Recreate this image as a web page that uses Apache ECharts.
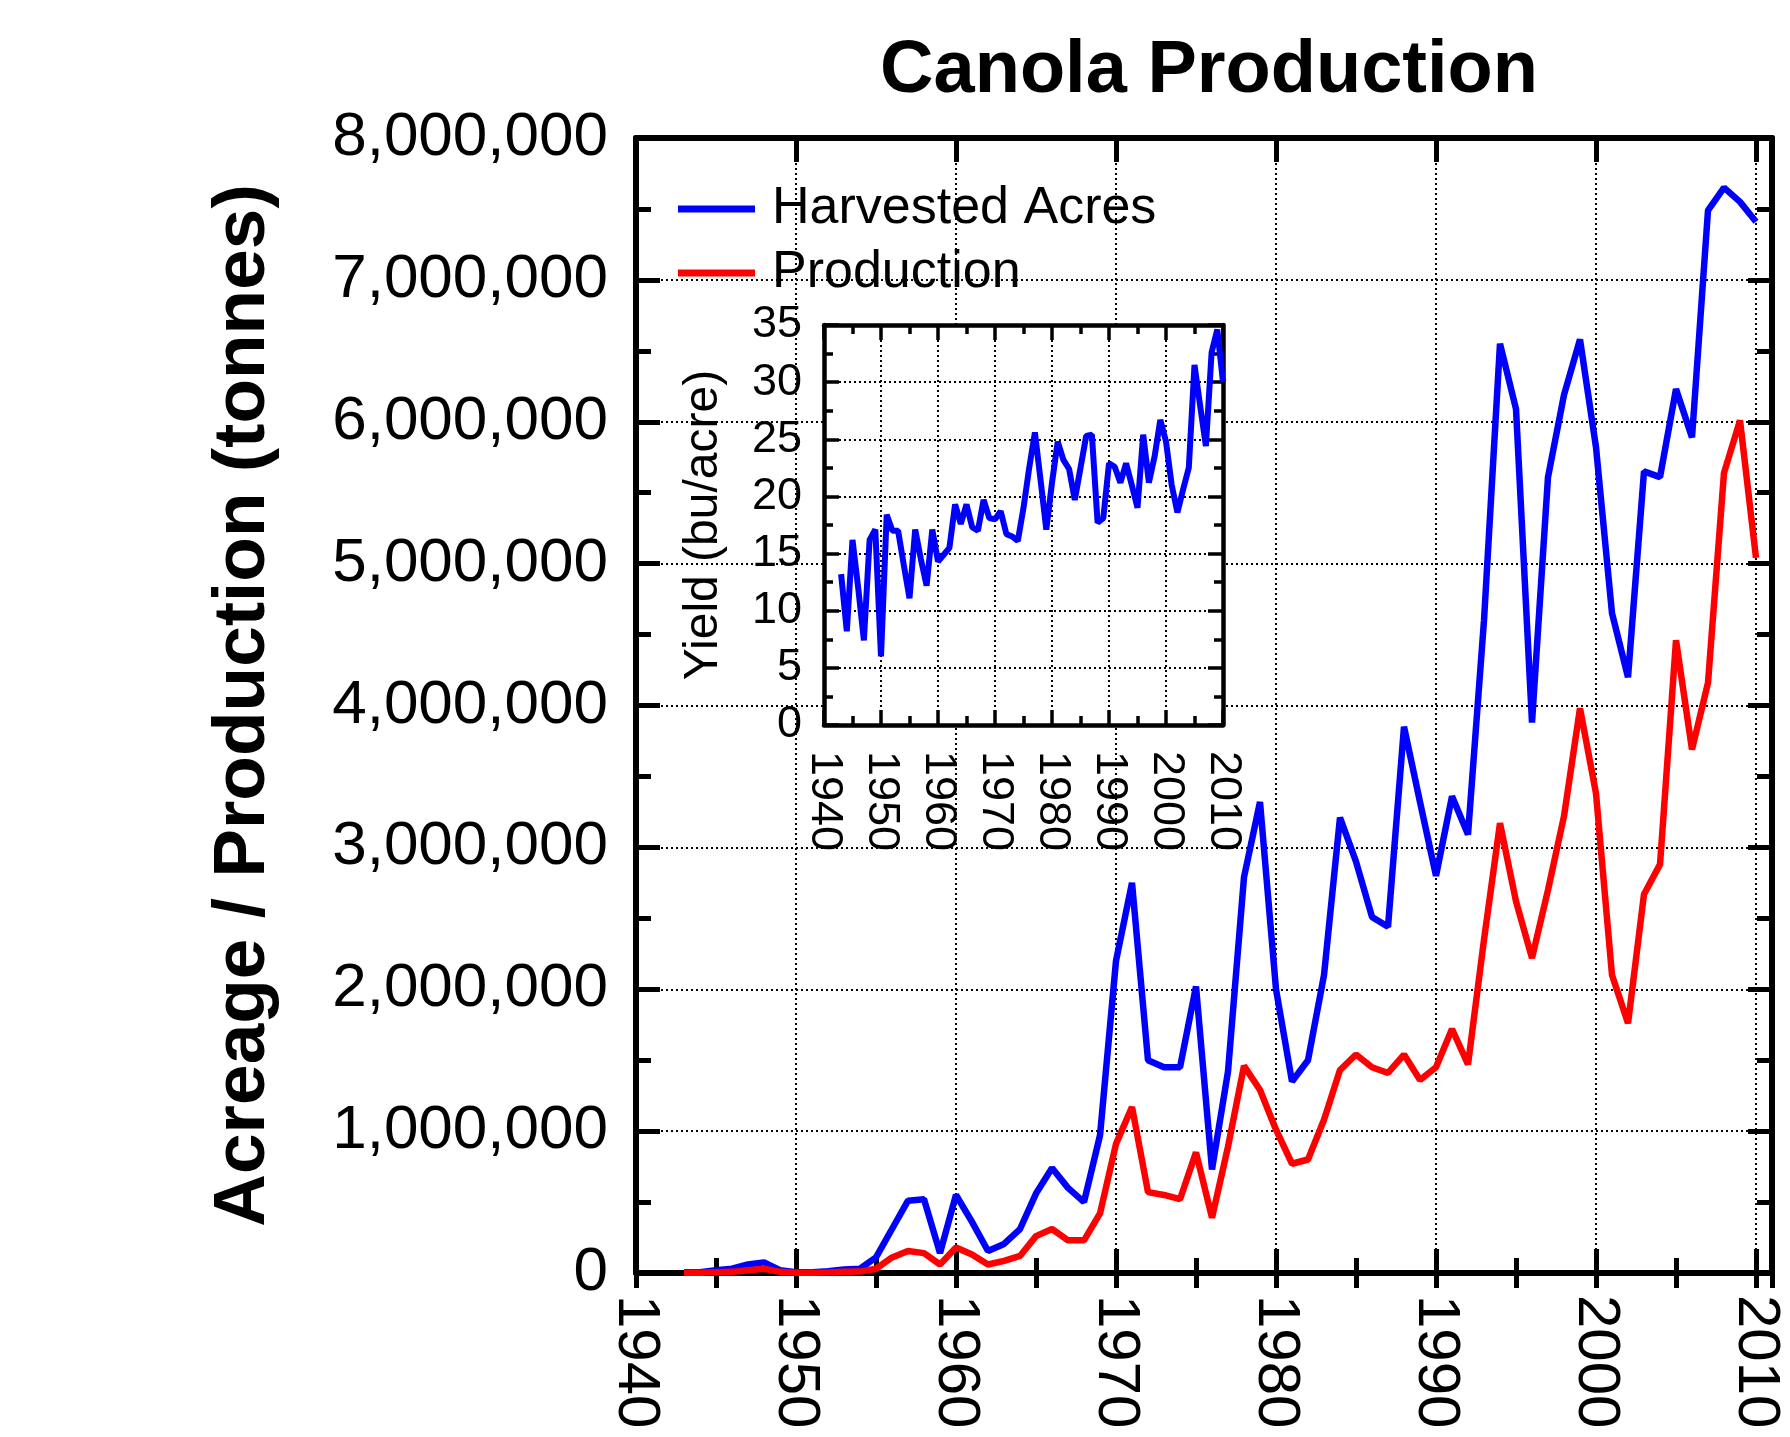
<!DOCTYPE html>
<html>
<head>
<meta charset="utf-8">
<title>Canola Production</title>
<script src="https://cdn.jsdelivr.net/npm/echarts@6/dist/echarts.min.js"></script>
<style>
    html, body { margin: 0; padding: 0; background: #fff; }
    #chart { width: 1790px; height: 1437px; }
</style>
</head>
<body>
<div id="chart"></div>
<script>
var years = [1943, 1944, 1945, 1946, 1947, 1948, 1949,
    1950, 1951, 1952, 1953, 1954, 1955, 1956, 1957, 1958, 1959,
    1960, 1961, 1962, 1963, 1964, 1965, 1966, 1967, 1968, 1969,
    1970, 1971, 1972, 1973, 1974, 1975, 1976, 1977, 1978, 1979,
    1980, 1981, 1982, 1983, 1984, 1985, 1986, 1987, 1988, 1989,
    1990, 1991, 1992, 1993, 1994, 1995, 1996, 1997, 1998, 1999,
    2000, 2001, 2002, 2003, 2004, 2005, 2006, 2007, 2008, 2009,
    2010];

var harvestedAcres = [5000, 5000, 20000, 30000, 60000, 75000, 20000,
    5000, 5000, 12000, 25000, 30000, 110000, 310000, 510000, 520000, 140000,
    550000, 360000, 155000, 205000, 310000, 560000, 740000, 600000, 500000, 970000,
    2200000, 2750000, 1500000, 1450000, 1450000, 2020000, 730000, 1420000, 2790000, 3320000,
    2000000, 1350000, 1500000, 2100000, 3210000, 2900000, 2510000, 2440000, 3850000, 3320000,
    2800000, 3360000, 3090000, 4600000, 6550000, 6090000, 3880000, 5610000, 6190000, 6580000,
    5820000, 4650000, 4200000, 5650000, 5610000, 6230000, 5890000, 7490000, 7650000, 7550000,
    7410000];

var production = [2000, 2000, 5000, 8000, 20000, 30000, 8000,
    2000, 2000, 4000, 8000, 10000, 30000, 110000, 155000, 140000, 60000,
    180000, 130000, 60000, 85000, 120000, 260000, 310000, 230000, 230000, 420000,
    910000, 1170000, 570000, 550000, 520000, 850000, 390000, 890000, 1460000, 1290000,
    1010000, 770000, 800000, 1080000, 1430000, 1540000, 1450000, 1410000, 1540000, 1360000,
    1450000, 1720000, 1470000, 2350000, 3170000, 2620000, 2220000, 2700000, 3220000, 3980000,
    3380000, 2100000, 1760000, 2670000, 2880000, 4460000, 3690000, 4160000, 5640000, 6010000,
    5040000];

// inset: yield in bu/acre
var yieldBuAcre = [13.2, 8.2, 16.2, 12.0, 7.4, 16.2, 17.1,
    6.0, 18.4, 17.0, 17.0, 14.0, 11.1, 17.1, 14.5, 12.2, 17.1,
    14.3, 14.9, 15.5, 19.3, 17.6, 19.3, 17.3, 17.0, 19.7, 18.1,
    18.0, 18.7, 16.7, 16.5, 16.1, 19.0, 22.5, 25.6, 21.4, 17.1,
    21.2, 24.8, 23.2, 22.4, 19.7, 22.5, 25.3, 25.4, 17.7, 18.1,
    22.9, 22.6, 21.2, 22.9, 21.0, 19.0, 25.4, 21.2, 23.5, 26.7,
    24.8, 21.0, 18.6, 20.6, 22.5, 31.5, 27.9, 24.4, 32.6, 34.6,
    30.0];

var FONT = '"Liberation Sans", Arial, Helvetica, sans-serif';
var dotted = { color: '#000', width: 2, type: [2, 3] };

function pairs(xs, ys) {
    var out = [];
    for (var i = 0; i < xs.length; i++) {
        out.push([xs[i], ys[i]]);
    }
    return out;
}

function withCommas(v) {
    return String(v).replace(/\B(?=(\d{3})+(?!\d))/g, ',');
}

function yearLabel(v) {
    return v % 10 === 0 ? String(v) : '';
}

// one side of a plot frame: line + inward ticks, no labels
function frameAxis(extra) {
    var a = {
        type: 'value',
        axisLine: { show: true, onZero: false, lineStyle: { color: '#000', width: 6 } },
        axisTick: { show: true, inside: true, length: 24, lineStyle: { color: '#000', width: 5 } },
        axisLabel: { show: false },
        splitLine: { show: false }
    };
    for (var k in extra) a[k] = extra[k];
    return a;
}

var minorMain = { show: true, inside: true, length: 15, lineStyle: { color: '#000', width: 5 } };
var insetLine = { show: true, onZero: false, lineStyle: { color: '#000', width: 4.5 } };
var insetTick = { show: true, inside: true, length: 15, lineStyle: { color: '#000', width: 3.5 } };
var insetMinor = { show: true, splitNumber: 2, length: 9, lineStyle: { color: '#000', width: 3.5 } };

var myChart = echarts.init(document.getElementById('chart'));

var option = {
    animation: false,
    backgroundColor: '#fff',
    title: {
        text: 'Canola Production',
        left: 1204,
        top: 30,
        textAlign: 'center',
        textStyle: { fontFamily: FONT, fontSize: 74, fontWeight: 'bold', color: '#000' }
    },
    legend: {
        orient: 'vertical',
        left: 673,
        top: 178,
        itemWidth: 77,
        itemHeight: 7,
        itemGap: 12,
        icon: 'rect',
        selectedMode: false,
        data: ['Harvested Acres', 'Production'],
        textStyle: { fontFamily: FONT, fontSize: 52, color: '#000', padding: [0, 0, 0, 12] }
    },
    grid: [
        { left: 636, top: 138, width: 1136, height: 1135, show: false },
        { left: 824, top: 325, width: 399, height: 400, show: true, backgroundColor: '#fff', borderWidth: 0, z: 5 }
    ],
    xAxis: [
        /* main, bottom, labelled */
        frameAxis({
            gridIndex: 0, position: 'bottom', min: 1940, max: 2011, interval: 10,
            axisLabel: {
                show: true, rotate: -90, margin: 22, fontSize: 60, fontFamily: FONT, color: '#000',
                formatter: yearLabel
            },
            splitLine: { show: true, lineStyle: dotted }
        }),
        frameAxis({
            gridIndex: 0, position: 'bottom', min: 1940, max: 2011, interval: 5,
            axisLine: { show: false },
            axisTick: minorMain
        }),
        frameAxis({ gridIndex: 0, position: 'top', min: 1940, max: 2011, interval: 10 }),
        frameAxis({
            gridIndex: 0, position: 'top', min: 1940, max: 2011, interval: 5,
            axisLine: { show: false },
            axisTick: minorMain
        }),
        /* inset */
        frameAxis({
            gridIndex: 1, position: 'bottom', min: 1940, max: 2010, interval: 10, z: 6,
            axisLine: insetLine,
            axisTick: insetTick,
            minorTick: insetMinor,
            axisLabel: { show: true, rotate: -90, margin: 26, fontSize: 45, fontFamily: FONT, color: '#000', formatter: yearLabel },
            splitLine: { show: true, lineStyle: dotted }
        }),
        frameAxis({
            gridIndex: 1, position: 'top', min: 1940, max: 2010, interval: 10, z: 6,
            axisLine: insetLine,
            axisTick: insetTick,
            minorTick: insetMinor
        })
    ],
    yAxis: [
        frameAxis({
            gridIndex: 0, position: 'left', min: 0, max: 8000000, interval: 1000000,
            minorTick: { show: true, splitNumber: 2, length: 15, lineStyle: { color: '#000', width: 5 } },
            axisLabel: { show: true, margin: 28, fontSize: 62, fontFamily: FONT, color: '#000', formatter: withCommas },
            splitLine: { show: true, lineStyle: dotted },
            name: 'Acreage / Production (tonnes)',
            nameLocation: 'middle',
            nameGap: 356,
            nameTextStyle: { fontFamily: FONT, fontSize: 73, fontWeight: 'bold', color: '#000' }
        }),
        frameAxis({
            gridIndex: 0, position: 'right', min: 0, max: 8000000, interval: 1000000,
            minorTick: { show: true, splitNumber: 2, length: 15, lineStyle: { color: '#000', width: 5 } }
        }),
        frameAxis({
            gridIndex: 1, position: 'left', min: 0, max: 35, interval: 5, z: 6,
            axisLine: insetLine,
            axisTick: insetTick,
            minorTick: insetMinor,
            axisLabel: { show: true, margin: 22, fontSize: 45, fontFamily: FONT, color: '#000' },
            splitLine: { show: true, lineStyle: dotted },
            name: 'Yield (bu/acre)',
            nameLocation: 'middle',
            nameGap: 96,
            nameTextStyle: { fontFamily: FONT, fontSize: 48, color: '#000' }
        }),
        frameAxis({
            gridIndex: 1, position: 'right', min: 0, max: 35, interval: 5, z: 6,
            axisLine: insetLine,
            axisTick: insetTick,
            minorTick: insetMinor
        })
    ],
    series: [
        {
            name: 'Harvested Acres',
            type: 'line',
            xAxisIndex: 0,
            yAxisIndex: 0,
            showSymbol: false,
            color: '#0000ff',
            lineStyle: { color: '#0000ff', width: 6.5 },
            z: 3,
            data: pairs(years, harvestedAcres)
        },
        {
            name: 'Production',
            type: 'line',
            xAxisIndex: 0,
            yAxisIndex: 0,
            showSymbol: false,
            color: '#ff0000',
            lineStyle: { color: '#ff0000', width: 6.5 },
            z: 3,
            data: pairs(years, production)
        },
        {
            name: 'Yield',
            type: 'line',
            xAxisIndex: 4,
            yAxisIndex: 2,
            showSymbol: false,
            color: '#0000ff',
            lineStyle: { color: '#0000ff', width: 6 },
            z: 8,
            data: pairs(years, yieldBuAcre)
        }
    ]
};
myChart.setOption(option);
</script>
</body>
</html>
